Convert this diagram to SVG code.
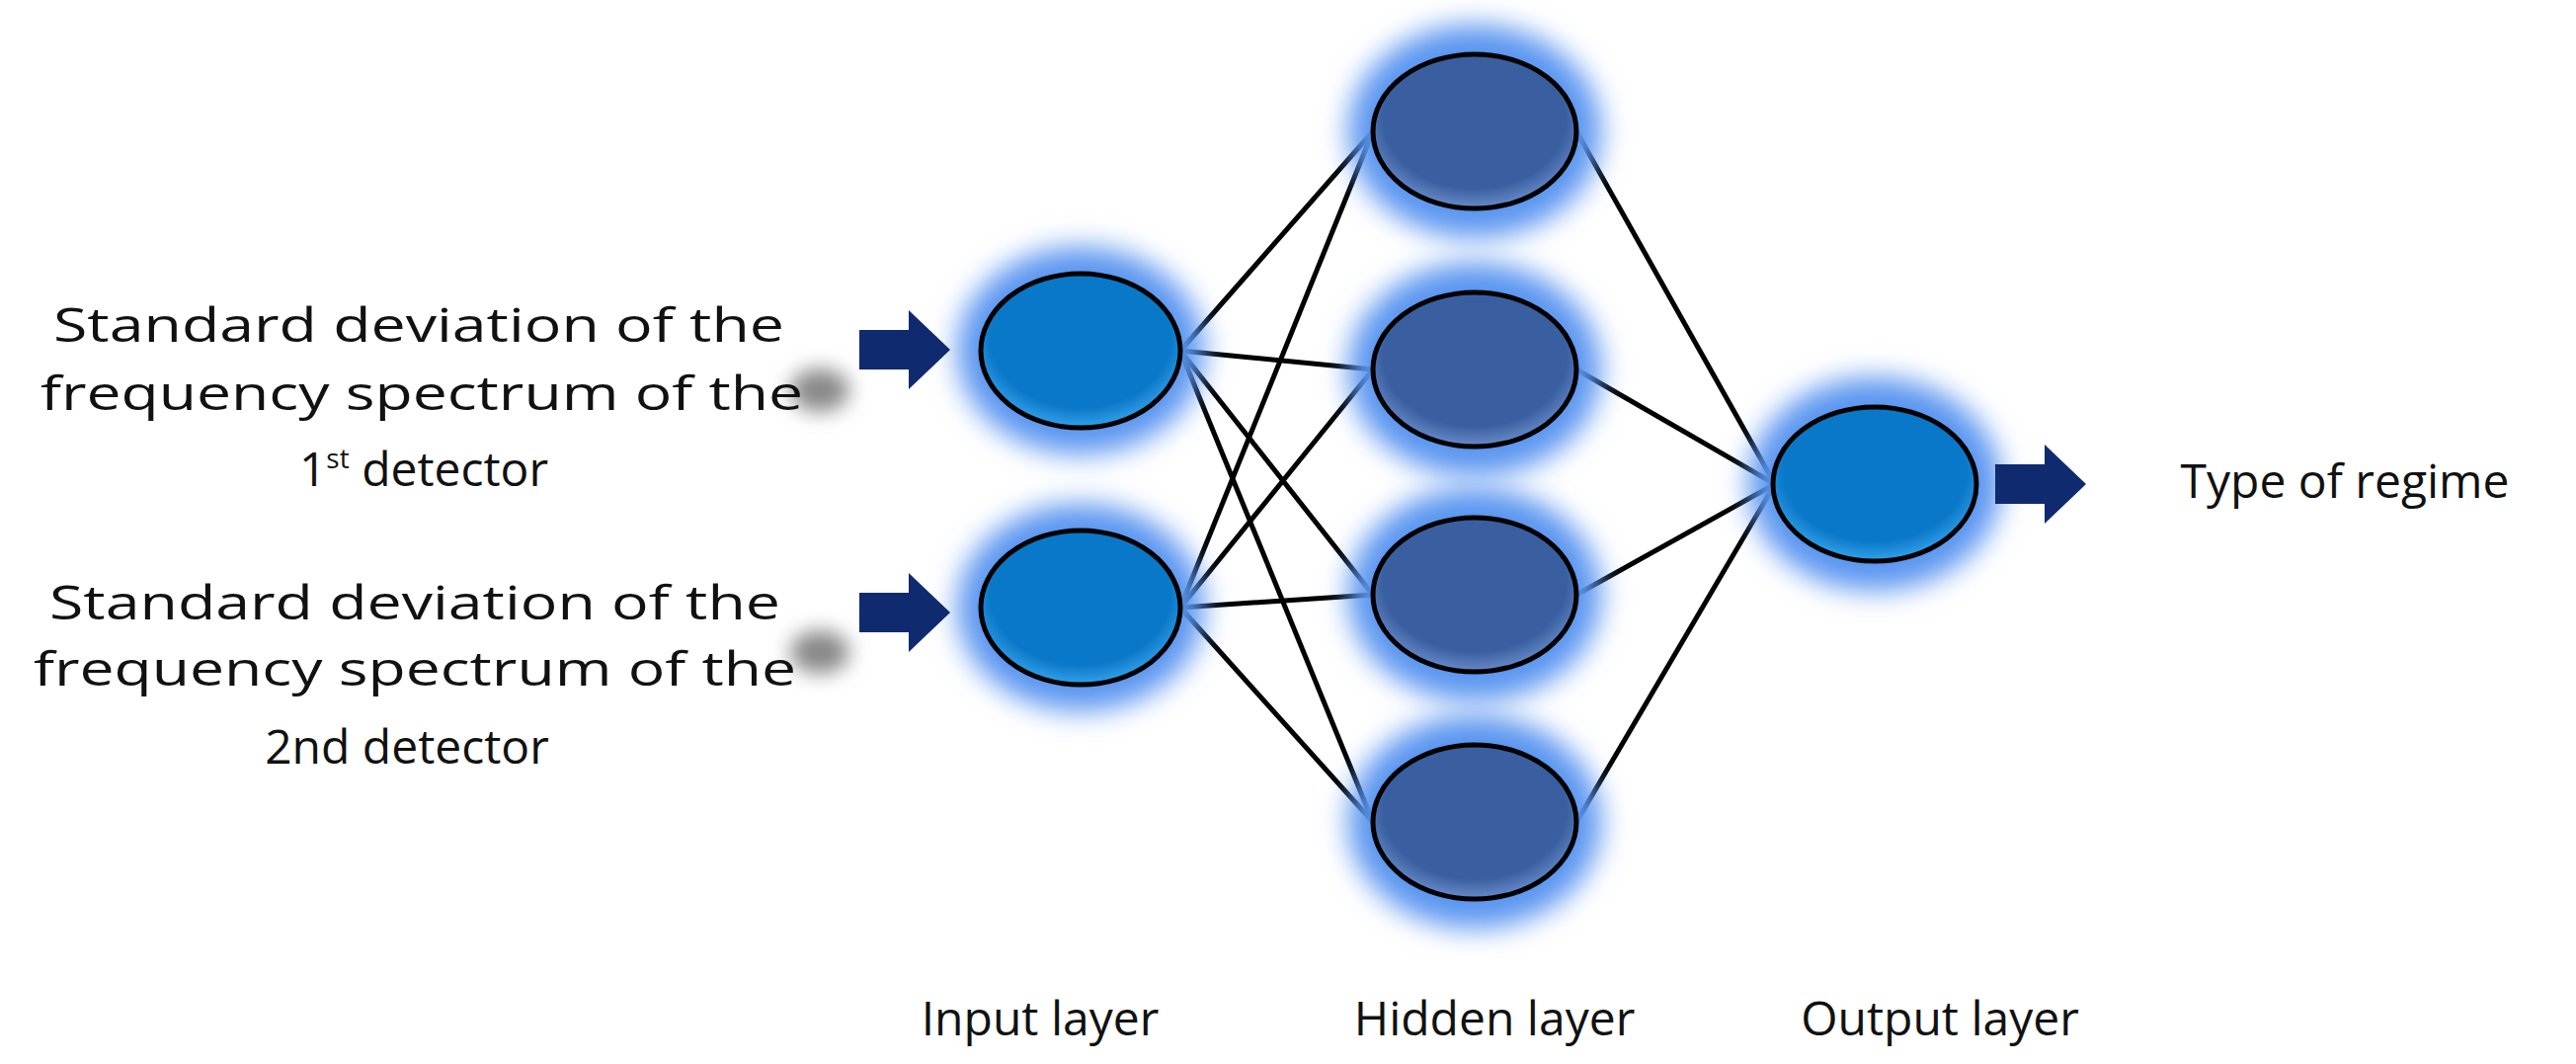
<svg xmlns="http://www.w3.org/2000/svg" width="2608" height="1077" viewBox="0 0 2608 1077">
<defs>
<filter id="glow" x="-50%" y="-50%" width="200%" height="200%"><feGaussianBlur stdDeviation="14"/></filter>
<filter id="sh" x="-100%" y="-100%" width="300%" height="300%"><feGaussianBlur stdDeviation="10"/></filter>
<radialGradient id="gIn" cx="0.5" cy="0.42" r="0.6"><stop offset="0.75" stop-color="#0a78c8"/><stop offset="1" stop-color="#3aa8f0"/></radialGradient>
<radialGradient id="gHid" cx="0.5" cy="0.42" r="0.6"><stop offset="0.75" stop-color="#3a5fa0"/><stop offset="1" stop-color="#6f92d0"/></radialGradient>
<path id="arr" d="M0,-20 H50 V-40 L92,0 L50,40 V20 H0 Z"/>
</defs>
<style>
.t{font-family:"Open Sans","Liberation Sans",sans-serif;font-size:48px;fill:#111;text-anchor:middle}
.ln{stroke:#000;stroke-width:5;fill:none}
.nd{stroke:#000;stroke-width:5}
.gl{fill:#5a95f0;filter:url(#glow)}
.ar{fill:#102a70}
</style>
<rect width="2608" height="1077" fill="#fff"/>
<ellipse cx="830" cy="395" rx="30" ry="22" fill="#888" filter="url(#sh)"/>
<ellipse cx="830" cy="660" rx="30" ry="22" fill="#888" filter="url(#sh)"/>
<g id="connectors">
<line class="ln" x1="1195" y1="355" x2="1390" y2="133"/>
<line class="ln" x1="1195" y1="355" x2="1390" y2="374"/>
<line class="ln" x1="1195" y1="355" x2="1390" y2="602"/>
<line class="ln" x1="1195" y1="355" x2="1390" y2="832"/>
<line class="ln" x1="1195" y1="615" x2="1390" y2="133"/>
<line class="ln" x1="1195" y1="615" x2="1390" y2="374"/>
<line class="ln" x1="1195" y1="615" x2="1390" y2="602"/>
<line class="ln" x1="1195" y1="615" x2="1390" y2="832"/>
<line class="ln" x1="1596" y1="133" x2="1797" y2="490"/>
<line class="ln" x1="1596" y1="374" x2="1797" y2="490"/>
<line class="ln" x1="1596" y1="602" x2="1797" y2="490"/>
<line class="ln" x1="1596" y1="832" x2="1797" y2="490"/>
</g>
<g id="in1"><ellipse class="gl" cx="1094" cy="355" rx="125" ry="105"/><ellipse class="nd" cx="1094" cy="355" rx="101" ry="78" fill="url(#gIn)"/></g>
<g id="in2"><ellipse class="gl" cx="1094" cy="615" rx="125" ry="105"/><ellipse class="nd" cx="1094" cy="615" rx="101" ry="78" fill="url(#gIn)"/></g>
<g id="h1"><ellipse class="gl" cx="1493" cy="133" rx="128" ry="108"/><ellipse class="nd" cx="1493" cy="133" rx="103" ry="78" fill="url(#gHid)"/></g>
<g id="h2"><ellipse class="gl" cx="1493" cy="374" rx="128" ry="108"/><ellipse class="nd" cx="1493" cy="374" rx="103" ry="78" fill="url(#gHid)"/></g>
<g id="h3"><ellipse class="gl" cx="1493" cy="602" rx="128" ry="108"/><ellipse class="nd" cx="1493" cy="602" rx="103" ry="78" fill="url(#gHid)"/></g>
<g id="h4"><ellipse class="gl" cx="1493" cy="832" rx="128" ry="108"/><ellipse class="nd" cx="1493" cy="832" rx="103" ry="78" fill="url(#gHid)"/></g>
<g id="out"><ellipse class="gl" cx="1898" cy="490" rx="128" ry="108"/><ellipse class="nd" cx="1898" cy="490" rx="103" ry="78" fill="url(#gIn)"/></g>
<g id="arrows">
<use href="#arr" class="ar" x="870" y="354"/>
<use href="#arr" class="ar" x="870" y="620"/>
<use href="#arr" class="ar" x="2020" y="490"/>
</g>
<g id="labels">
<text class="t" x="424" y="346" textLength="740" lengthAdjust="spacingAndGlyphs">Standard deviation of the</text>
<text class="t" x="427" y="415" textLength="772" lengthAdjust="spacingAndGlyphs">frequency spectrum of the</text>
<text class="t" x="429" y="492">1<tspan font-size="28" dy="-18">st</tspan><tspan dy="18"> detector</tspan></text>
<text class="t" x="420" y="627" textLength="740" lengthAdjust="spacingAndGlyphs">Standard deviation of the</text>
<text class="t" x="420" y="694" textLength="772" lengthAdjust="spacingAndGlyphs">frequency spectrum of the</text>
<text class="t" x="412" y="773">2nd  detector</text>
<text class="t" x="2374" y="504">Type of regime</text>
<text class="t" x="1053" y="1048">Input layer</text>
<text class="t" x="1513" y="1048">Hidden layer</text>
<text class="t" x="1964" y="1048">Output layer</text>
</g>
</svg>
